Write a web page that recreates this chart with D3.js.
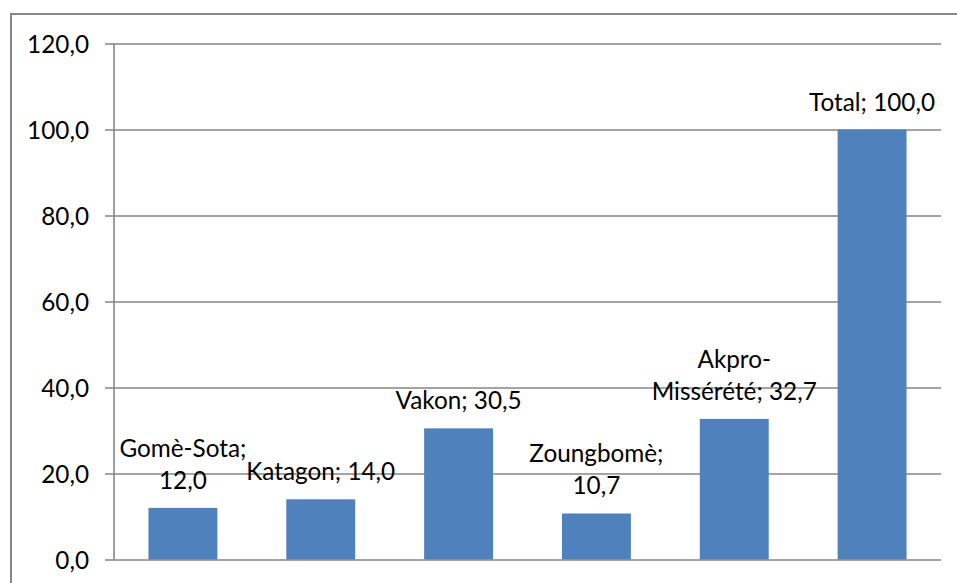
<!DOCTYPE html>
<html>
<head>
<meta charset="utf-8">
<script src="https://cdn.jsdelivr.net/npm/d3@7"></script>
<style>
  html, body { margin: 0; padding: 0; background: #fff; overflow: hidden; }
  svg { display: block; }
  text { font-family: Lato, "Open Sans", sans-serif; fill: #000; }
</style>
</head>
<body>
<svg id="chart" width="957" height="583"></svg>
<script>
// ---- data ----
const categories = ["Gomè-Sota", "Katagon", "Vakon", "Zoungbomè", "Akpro-Missérété", "Total"];
const values = [12.0, 14.0, 30.5, 10.7, 32.7, 100.0];
// where each data label wraps (null = single line)
const labelBreaks = ["; ", null, null, "; ", "-", null];
const yTicks = [0, 20, 40, 60, 80, 100, 120];

// ---- layout ----
const W = 957, H = 583;
const plot = { left: 114, right: 941, top: 43.5, bottom: 559.5 };
const fontSize = 24.3;
const lineGap = 32;

const svg = d3.select("#chart");
const fmt = v => d3.format(".1f")(v).replace(".", ",");

const x = d3.scaleBand()
  .domain(categories)
  .range([plot.left, plot.right])
  .paddingInner(0.5)
  .paddingOuter(0.25);

const y = d3.scaleLinear()
  .domain([0, 120])
  .range([plot.bottom, plot.top]);

// outer chart border
svg.append("rect")
  .attr("x", 11).attr("y", 14)
  .attr("width", W + 20).attr("height", H + 20)
  .attr("fill", "none")
  .attr("stroke", "#868686")
  .attr("stroke-width", 2);

// gridlines + y axis
const yAxis = d3.axisLeft(y)
  .tickValues(yTicks)
  .tickSize(-(plot.right - plot.left))
  .tickPadding(16)
  .tickFormat(fmt);

const gy = svg.append("g")
  .attr("transform", `translate(${plot.left},0)`)
  .call(yAxis);
gy.select(".domain").remove();
gy.selectAll(".tick line")
  .attr("x1", -9)
  .attr("stroke", "#868686")
  .attr("stroke-width", 1.6);
gy.selectAll(".tick text")
  .attr("x", 89 - plot.left)
  .attr("dy", "0.36em")
  .style("font-family", "Lato, 'Open Sans', sans-serif")
  .style("font-size", fontSize + "px")
  .attr("fill", "#000");

// vertical axis line
svg.append("line")
  .attr("x1", plot.left).attr("x2", plot.left)
  .attr("y1", y(120)).attr("y2", y(0))
  .attr("stroke", "#868686")
  .attr("stroke-width", 1.6);

// bars
svg.append("g").selectAll("rect")
  .data(categories)
  .join("rect")
  .attr("x", d => x(d))
  .attr("width", x.bandwidth())
  .attr("y", (d, i) => y(values[i]))
  .attr("height", (d, i) => y(0) - y(values[i]))
  .attr("fill", "#4F81BD");

// data labels
const labels = svg.append("g").selectAll("text")
  .data(categories)
  .join("text")
  .attr("text-anchor", "middle")
  .style("font-size", fontSize + "px")
  .attr("x", d => x(d) + x.bandwidth() / 2)
  .attr("y", (d, i) => y(values[i]) - 19);

labels.each(function (d, i) {
  const full = d + "; " + fmt(values[i]);
  let lines = [full];
  const br = labelBreaks[i];
  if (br) {
    const cut = full.indexOf(br) + 1;
    lines = [full.slice(0, cut).trim(), full.slice(cut).trim()];
  }
  const t = d3.select(this);
  const baseY = +t.attr("y");
  const n = lines.length;
  lines.forEach((ln, j) => {
    t.append("tspan")
      .attr("x", t.attr("x"))
      .attr("y", baseY - (n - 1 - j) * lineGap)
      .text(ln);
  });
});
</script>
</body>
</html>
